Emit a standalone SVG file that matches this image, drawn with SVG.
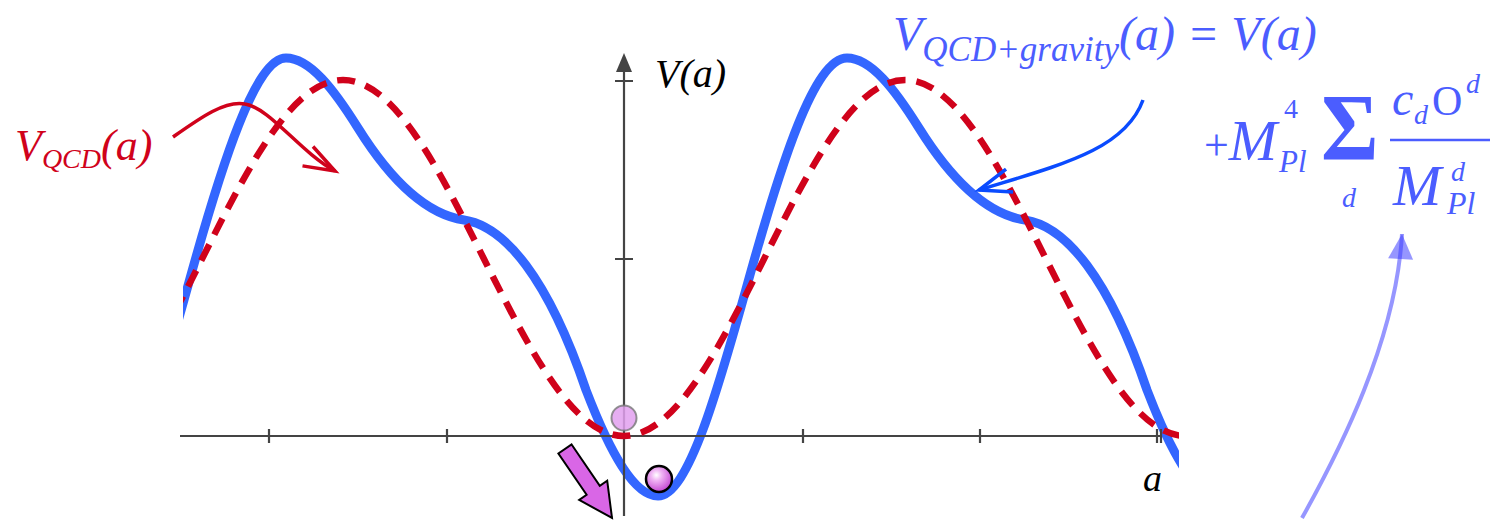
<svg xmlns="http://www.w3.org/2000/svg" width="1492" height="520" viewBox="0 0 1492 520">
<style>
.it{font-family:"Liberation Serif","DejaVu Serif",serif;font-style:italic}
.rm{font-family:"Liberation Serif","DejaVu Serif",serif;font-style:normal}
.axis{stroke:#444;stroke-width:2.2;fill:none}
.blueC{fill:none;stroke:#3366ff;stroke-width:9;stroke-linejoin:round}
.redC{fill:none;stroke:#d0021b;stroke-width:6.5;stroke-dasharray:18 11}
.fblue{fill:#4b5dff}
</style>
<defs>
<clipPath id="plotclip"><rect x="183" y="0" width="996" height="520"/></clipPath>
<marker id="openRed" markerUnits="userSpaceOnUse" viewBox="-40 -20 44 40" markerWidth="44" markerHeight="40" refX="0" refY="0" orient="auto" overflow="visible"><path d="M-31,-11 L0,0 L-31,11" fill="none" stroke="#d0021b" stroke-width="3.5"/></marker>
<marker id="openBlue" markerUnits="userSpaceOnUse" viewBox="-40 -20 44 40" markerWidth="44" markerHeight="40" refX="0" refY="0" orient="auto" overflow="visible"><path d="M-32,-12 L0,0 L-32,12" fill="none" stroke="#0a4bff" stroke-width="3.5"/></marker>
<marker id="triV" markerUnits="userSpaceOnUse" viewBox="-28 -15 30 30" markerWidth="30" markerHeight="30" refX="0" refY="0" orient="auto" overflow="visible"><path d="M0,0 L-25,-12.5 L-25,12.5 Z" fill="#4040ff" fill-opacity="0.55"/></marker>
<radialGradient id="ballG" cx="0.4" cy="0.35" r="0.7"><stop offset="0" stop-color="#ffffff"/><stop offset="0.3" stop-color="#f0b4f4"/><stop offset="1" stop-color="#c03cd0"/></radialGradient>
</defs>

<g id="curve-gravity" clip-path="url(#plotclip)">
<path class="blueC" d="M99,496 C129,496 159,390 189,282 C222.3,162 255.7,58 286,58 C310,58 334,89.6 358,128 C393.3,184.5 428.7,214.7 464,220 C504.7,226.1 548,278 586,390 C610,452.4 634,496 658,496 C688,496 718,390 748,282 C781.3,162 814.7,58 847,58 C871,58 895,89.6 919,128 C954.3,184.5 989.7,214.7 1025,220 C1065.7,226.1 1109,278 1147,390 C1171,452.4 1195,496 1219,496"/>
</g>

<g id="axes">
<line class="axis" x1="180" y1="436" x2="1161" y2="436"/>
<line class="axis" x1="624" y1="516" x2="624" y2="70"/>
<polygon points="624,53 616,72 632,72" fill="#444"/>
<path class="axis" d="M269,429V443 M447,429V443 M803,429V443 M980,429V443 M1157,429V443 M1161,429V443 M615,81H633 M615,259H633"/>
<text class="it" x="655" y="87" font-size="40" fill="#000">V(a)</text>
<text class="it" x="1143" y="491" font-size="38" fill="#000">a</text>
</g>

<g id="curve-qcd" clip-path="url(#plotclip)">
<path class="redC" d="M62,436 C112.85,436 156.68,349.19 202.5,258 C248.32,166.81 292.15,80 343,80 C393.85,80 437.68,166.81 483.5,258 C529.32,349.19 573.15,436 624,436 C674.85,436 718.68,349.19 764.5,258 C810.32,166.81 854.15,80 905,80 C955.85,80 999.68,166.81 1045.5,258 C1091.32,349.19 1135.15,436 1186,436"/>
</g>

<g id="ball-old">
<circle cx="624" cy="418" r="12.5" fill="#e2a0ee" fill-opacity="0.85" stroke="#777" stroke-opacity="0.8" stroke-width="2"/>
</g>
<g id="ball-new">
<circle cx="659" cy="479" r="13" fill="url(#ballG)" stroke="#000" stroke-width="2.5"/>
</g>
<g id="roll-arrow">
<polygon points="571.6,444.5 599.8,485.8 607.2,480.7 612,518 579.2,499.9 586.6,494.8 558.4,453.5" fill="#d966e6" stroke="#000" stroke-width="2" stroke-linejoin="miter"/>
</g>

<g id="label-qcd">
<text class="it" x="15" y="160" font-size="44" fill="#d0021b">V<tspan font-size="28" dy="8">QCD</tspan><tspan dy="-8">(a)</tspan></text>
</g>

<g id="label-gravity">
<text class="it fblue" x="893" y="50" font-size="48">V<tspan font-size="35" dy="11">QCD+gravity</tspan><tspan dy="-11">(a) = V(a)</tspan></text>
</g>

<g id="formula" class="fblue">
<text class="it" x="1204" y="160" font-size="58"><tspan class="rm" font-size="44">+</tspan>M</text>
<text class="rm" x="1284" y="118" font-size="28">4</text>
<text class="it" x="1279" y="172" font-size="31">Pl</text>
<text class="rm" transform="translate(1321,160) scale(1.1,1.2)" x="0" y="0" font-size="80" font-weight="bold">Σ</text>
<text class="it" x="1342" y="207" font-size="28">d</text>
<text class="it" x="1392" y="115" font-size="48">c</text>
<text class="it" x="1414" y="124" font-size="28">d</text>
<text class="rm" x="1432" y="115" font-size="42">O</text>
<text class="it" x="1466" y="93" font-size="28">d</text>
<line x1="1390" y1="140" x2="1490" y2="140" stroke="#4b5dff" stroke-width="2.5"/>
<text class="it" x="1393" y="205" font-size="58">M</text>
<text class="it" x="1451" y="181" font-size="28">d</text>
<text class="it" x="1447" y="214" font-size="32">Pl</text>
</g>

<g id="connectors">
<path d="M173,137 C200,118 225,100 245,104 C270,108 300,152 335,171" fill="none" stroke="#d0021b" stroke-width="3.5" marker-end="url(#openRed)"/>
<path d="M1143,100 C1125,150 1060,165 979,190" fill="none" stroke="#0a4bff" stroke-width="3.5" marker-end="url(#openBlue)"/>
<path d="M1302,518 C1340,450 1396,340 1402,234" fill="none" stroke="#4040ff" stroke-opacity="0.55" stroke-width="4" marker-end="url(#triV)"/>
</g>
</svg>
